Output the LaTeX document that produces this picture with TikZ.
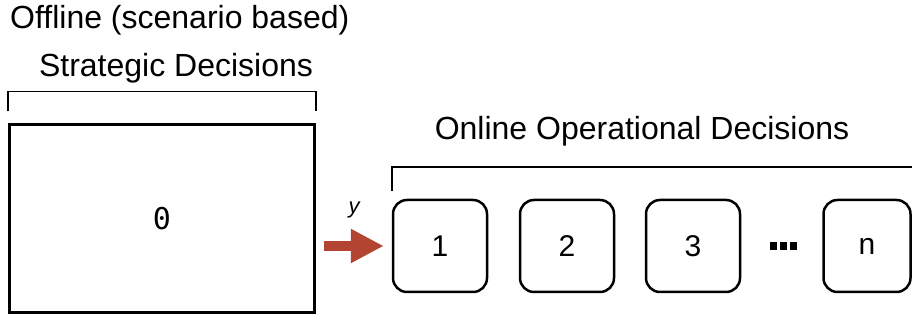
\documentclass[tikz,border=0pt]{standalone}
\usepackage{fontspec}
\setmainfont{Liberation Sans}
\setmonofont{DejaVu Sans Mono}
\usepackage{xcolor}
\usepackage{tikz}
\usetikzlibrary{arrows.meta, positioning, calc}
\definecolor{arrowred}{RGB}{178,68,49}

\begin{document}
\begin{tikzpicture}[x=1pt, y=1pt,
  offline/.style={draw, line width=3pt, minimum width=305pt, minimum height=188pt, font=\fontsize{30}{36}\selectfont\ttfamily},
  online/.style={draw, line width=2.5pt, rounded corners=14pt, minimum width=94pt, minimum height=92pt, font=\fontsize{30}{36}\selectfont},
  bracket/.style={draw, line width=1.5pt},
  heading/.style={font=\fontsize{32}{38}\selectfont, inner sep=0pt},
  flow/.style={draw=arrowred, line width=10pt, -{Triangle[length=33pt, width=32pt]}, shorten <=8pt, shorten >=8pt},
]
  \useasboundingbox (0,0) rectangle (912,320);

  \node[offline] (stage0) at (162,101) {0};
  \node[online] (stage1) at (440,74) {1};
  \node[online] (stage2) at (567,74) {2};
  \node[online] (stage3) at (693,74) {3};
  \node[online, minimum width=87pt] (stagen) at (867,74) {n};
  \node[inner sep=0pt] (dots) at (783,74) {\rule{7pt}{8pt}\hspace{3pt}\rule{7pt}{8pt}\hspace{3pt}\rule{7pt}{8pt}};

  % brackets over the two phases
  \draw[bracket] ([yshift=12pt]stage0.north west) -- ++(0,20) -| ([yshift=12pt]stage0.north east);
  \coordinate (edge) at (912,153);
  \draw[bracket] ([yshift=8pt]stage1.north west) |- (edge);

  \node[heading, anchor=base west] (offline) at (10,291) {Offline (scenario based)};
  \node[heading, anchor=base] (strategic) at (176,243) {Strategic Decisions};
  \node[heading, anchor=base] (operational) at (642,180) {Online Operational Decisions};

  \draw[flow] (stage0.east |- stage1.west) -- (stage1.west);
  \node[font=\fontsize{22}{26}\selectfont\itshape] (ylabel) at (354,110) {y};
\end{tikzpicture}
\end{document}
